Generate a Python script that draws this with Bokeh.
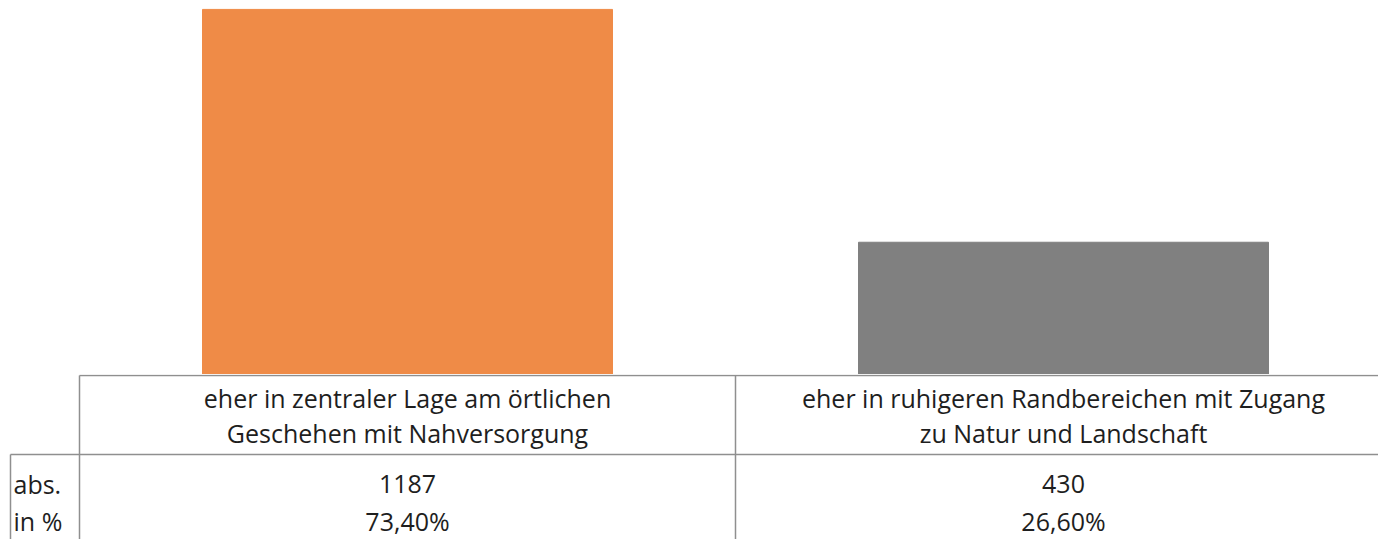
from bokeh.plotting import figure
from bokeh.models import Range1d, ColumnDataSource
from bokeh.layouts import column
from bokeh.embed import file_html
from bokeh.resources import INLINE
from bokeh.core.properties import value

# ---- data ----
categories = ["eher in zentraler Lage am örtlichen\nGeschehen mit Nahversorgung",
              "eher in ruhigeren Randbereichen mit Zugang\nzu Natur und Landschaft"]
abs_values = [1187, 430]
pct_labels = ["73,40%", "26,60%"]
row_labels = ["abs.", "in %"]
bar_colors = ["#EF8B47", "#808080"]

FONT = value("Open Sans")
FS = "25px"
TXT = "#1e1e1e"
LINE = "#8f8f8f"

W = 1378
PX = 656.0  # pixels per category
X0 = 79     # pixel position of the first category's left edge
x_left = (0 - X0) / PX
x_right = (W - X0) / PX
xr = Range1d(x_left, x_right)

xs = [i + 0.5 for i in range(len(categories))]

# ---- bar figure ----
p = figure(width=W, height=374, x_range=xr, y_range=Range1d(0, 1216),
           output_backend="svg", toolbar_location=None, min_border=0)
p.axis.visible = False
p.grid.visible = False
p.outline_line_color = None
src = ColumnDataSource(dict(x=xs, top=abs_values, color=bar_colors))
p.vbar(x="x", top="top", bottom=0, width=410 / PX, color="color", source=src)

# ---- table figure ----
t = figure(width=W, height=165, x_range=xr, y_range=Range1d(165, 0),
           output_backend="svg", toolbar_location=None, min_border=0)
t.axis.visible = False
t.grid.visible = False
t.outline_line_color = None

x_lab = (10 - X0) / PX
# grid lines
t.segment(x0=[0, x_lab], y0=[1, 80], x1=[2.1, 2.1], y1=[1, 80], line_color=LINE, line_width=1.5)
t.segment(x0=[0, 1, x_lab], y0=[1, 1, 80], x1=[0, 1, x_lab], y1=[170, 170, 170],
          line_color=LINE, line_width=1.5)

line1 = [c.split("\n")[0] for c in categories]
line2 = [c.split("\n")[1] for c in categories]
kw = dict(text_baseline="middle", text_font=FONT, text_font_size=FS, text_color=TXT)
t.text(x=xs, y=[23] * 2, text=line1, text_align="center", **kw)
t.text(x=xs, y=[58] * 2, text=line2, text_align="center", **kw)
t.text(x=xs, y=[109] * 2, text=[str(v) for v in abs_values], text_align="center", **kw)
t.text(x=xs, y=[146] * 2, text=pct_labels, text_align="center", **kw)
t.text(x=[(13 - X0) / PX] * 2, y=[109, 146], text=row_labels, text_align="left", **kw)

layout = column(p, t, spacing=0)
open("out.html", "w").write(file_html(layout, INLINE))
